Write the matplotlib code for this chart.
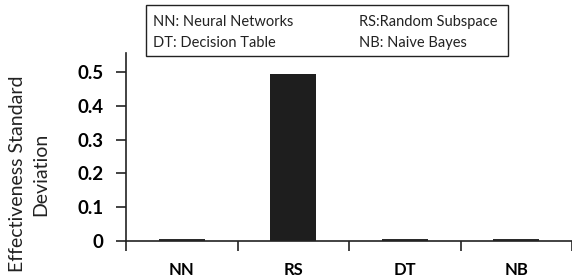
import matplotlib
matplotlib.use("Agg")
import matplotlib.pyplot as plt
from matplotlib.patches import Rectangle

categories = ["NN", "RS", "DT", "NB"]
values = [0.006, 0.493, 0.006, 0.006]
yticks = [0, 0.1, 0.2, 0.3, 0.4, 0.5]
ytick_labels = ["0", "0.1", "0.2", "0.3", "0.4", "0.5"]
legend_left = ["NN: Neural Networks", "DT: Decision Table"]
legend_right = ["RS:Random Subspace", "NB: Naive Bayes"]
ylabel = "Effectiveness Standard\nDeviation"

plt.rcParams['font.family'] = ['Lato', 'DejaVu Sans']

W, H = 572, 278
fig = plt.figure(figsize=(W/100, H/100), dpi=100)
ax = fig.add_axes([126/W, (H-241)/H, 1 - 126/W, (241-53)/H])

colors = ["#2b2b2b", "#1e1e1e", "#2b2b2b", "#2b2b2b"]
x = list(range(len(categories)))
ax.bar(x, values, width=0.41, color=colors, edgecolor="none", zorder=3)

ax.set_xlim(-0.5, 3.47)
ax.set_ylim(0, 0.556)
ax.set_yticks(yticks)
ax.set_yticklabels(ytick_labels, fontsize=13.5, fontweight="bold")
ax.set_xticks(x)
ax.set_xticklabels(categories, fontsize=12, fontweight="bold")
ax.tick_params(axis="x", which="major", length=0, pad=15)
ax.set_xticks([-0.5, 0.5, 1.5, 2.5, 3.5], minor=True)
ax.tick_params(axis="x", which="minor", length=7, width=1.2, direction="out", color="#222222")
ax.tick_params(axis="y", length=7, width=1.2, direction="out", color="#222222", pad=9)
for s in ["top", "right"]:
    ax.spines[s].set_visible(False)
for s in ["left", "bottom"]:
    ax.spines[s].set_linewidth(1.2)
    ax.spines[s].set_color("#222222")
ax.spines["bottom"].set_zorder(4)

fig.text(29/W, 1 - 174/H, ylabel, rotation=90, rotation_mode="anchor",
         ha="center", va="center", multialignment="center",
         fontsize=14, linespacing=1.45, color="#222222")

# legend box
fig.patches.append(Rectangle((146/W, 1 - 56/H), (508-146)/W, (56-5)/H,
                             transform=fig.transFigure, fill=False,
                             edgecolor="#222222", linewidth=1.0))
for i, (l, r) in enumerate(zip(legend_left, legend_right)):
    yy = 1 - (22.5 + 20.5*i)/H
    fig.text(153/W, yy, l, ha="left", va="center", fontsize=10.5, color="#222222")
    fig.text(359/W, yy, r, ha="left", va="center", fontsize=10.5, color="#222222")

fig.savefig("out.png", dpi=100)
